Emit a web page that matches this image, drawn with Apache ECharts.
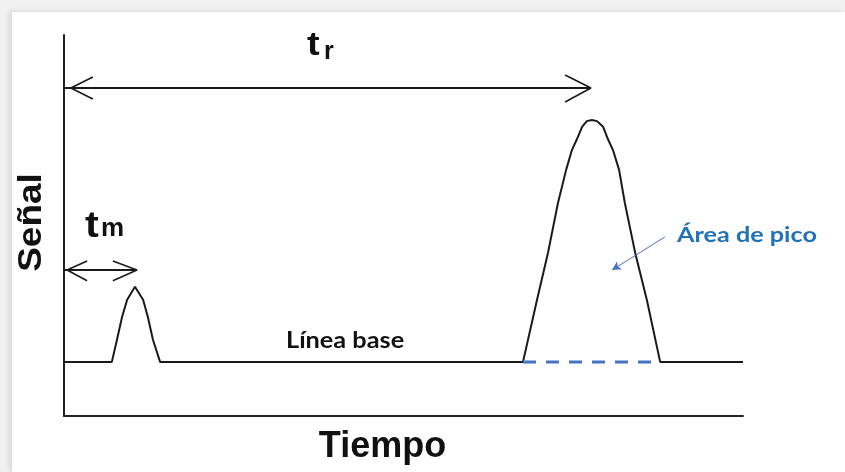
<!DOCTYPE html>
<html>
<head>
<meta charset="utf-8">
<script src="https://cdn.jsdelivr.net/npm/echarts@6/dist/echarts.min.js"></script>
<style>
html,body{margin:0;padding:0;background:#f1f1f1;}
#frame{position:absolute;left:12px;top:12px;width:833px;height:460px;background:#fff;box-shadow:-3px -1px 5px rgba(0,0,0,0.10);}
#main{position:absolute;left:0;top:0;width:845px;height:472px;}
</style>
</head>
<body>
<div id="frame"></div>
<div id="main"></div>
<script>
// signal trace (time, signal)
var signalX = [0, 1.41, 1.56, 1.71, 1.86, 2.09, 2.33, 2.47, 2.62, 2.83,
	13.52, 13.93, 14.26, 14.55, 14.79, 14.96, 15.11, 15.26, 15.40, 15.55, 15.70, 15.88, 16.02, 16.17, 16.35, 16.52, 16.82, 17.17, 17.56, 20];
var signalY = [1.42, 1.42, 2.0, 2.6, 3.05, 3.39, 3.05, 2.6, 2.0, 1.42,
	1.42, 3.04, 4.30, 5.59, 6.46, 6.98, 7.27, 7.59, 7.74, 7.77, 7.74, 7.59, 7.27, 6.98, 6.46, 5.59, 4.30, 3.04, 1.42, 1.42];

// peak base (dashed)
var areaX = [13.52, 17.56];
var areaY = [1.42, 1.42];

// t_r and t_m arrows
var trShaft = [[0, 8.61], [15.52, 8.61]];
var trHeadL = [[0.85, 8.90], [0.20, 8.61], [0.85, 8.32]];
var trHeadR = [[14.76, 8.95], [15.52, 8.61], [14.76, 8.24]];
var tmShaft = [[0, 3.83], [2.15, 3.83]];
var tmHeadL = [[0.68, 4.07], [0.09, 3.83], [0.68, 3.55]];
var tmHeadR = [[1.44, 4.07], [2.15, 3.83], [1.44, 3.55]];

// pointer to the peak area
var areaPointer = [[17.70, 4.70], [16.14, 3.83]];

function zip(xs, ys) {
	var out = [];
	for (var i = 0; i < xs.length; i++) out.push([xs[i], ys[i]]);
	return out;
}

function seg(data, width, color) {
	return {
		type: 'line', data: data, symbol: 'none', silent: true, animation: false,
		lineStyle: { color: color || '#1a1a1a', width: width || 2 }
	};
}

function label(txt, x, y, font, opts) {
	opts = opts || {};
	return {
		type: 'text', x: x, y: y, rotation: opts.rotation || 0,
		scaleX: opts.scaleX || 1, scaleY: opts.scaleY || 1,
		style: { text: txt, font: font, fill: opts.fill || '#111', align: opts.align || 'left', verticalAlign: 'middle' }
	};
}

var myChart = echarts.init(document.getElementById('main'));
var option = {
	backgroundColor: 'transparent',
	animation: false,
	grid: { left: 64, right: 102, top: 35, bottom: 56 },
	xAxis: {
		type: 'value', min: 0, max: 20,
		axisLine: { show: true, lineStyle: { color: '#222', width: 2 } },
		axisTick: { show: false }, axisLabel: { show: false }, splitLine: { show: false }
	},
	yAxis: {
		type: 'value', min: 0, max: 10,
		axisLine: { show: true, lineStyle: { color: '#222', width: 2 } },
		axisTick: { show: false }, axisLabel: { show: false }, splitLine: { show: false }
	},
	series: [
		seg(zip(signalX, signalY), 2, '#1a1a1a'),
		{
			type: 'line', data: zip(areaX, areaY), symbol: 'none', silent: true, z: 3,
			lineStyle: { color: '#4472C4', width: 3, type: [13, 10] },
			markLine: {
				silent: true, symbol: ['none', 'arrow'], symbolSize: [7, 9],
				label: { show: false },
				lineStyle: { color: '#4472C4', width: 1, type: 'solid' },
				data: [[{ coord: areaPointer[0] }, { coord: areaPointer[1] }]]
			}
		},
		seg(trShaft, 2), seg(trHeadL, 1.6), seg(trHeadR, 1.6),
		seg(tmShaft, 2), seg(tmHeadL, 1.6), seg(tmHeadR, 1.6)
	],
	graphic: [
		label('Señal', 32, 222.5, 'bold 37px "Liberation Sans"', { rotation: Math.PI / 2, align: 'center', scaleY: 0.88 }),
		label('Tiempo', 382.5, 447.5, 'bold 36px "Liberation Sans"', { align: 'center' }),
		label('t', 307, 45.5, 'bold 33px "Liberation Sans"', { scaleX: 1.15 }),
		label('r', 324, 52.3, 'bold 25px "Liberation Sans"'),
		label('t', 85, 227.5, 'bold 36px "Liberation Sans"', { scaleX: 1.15 }),
		label('m', 101, 229, 'bold 26px "Liberation Sans"'),
		label('Línea base', 286, 340.5, 'bold 22px Lato', { scaleX: 1.15 }),
		label('Área de pico', 677, 235, 'bold 21px Lato', { scaleX: 1.2, fill: '#2272B8' })
	]
};
myChart.setOption(option);
</script>
</body>
</html>
